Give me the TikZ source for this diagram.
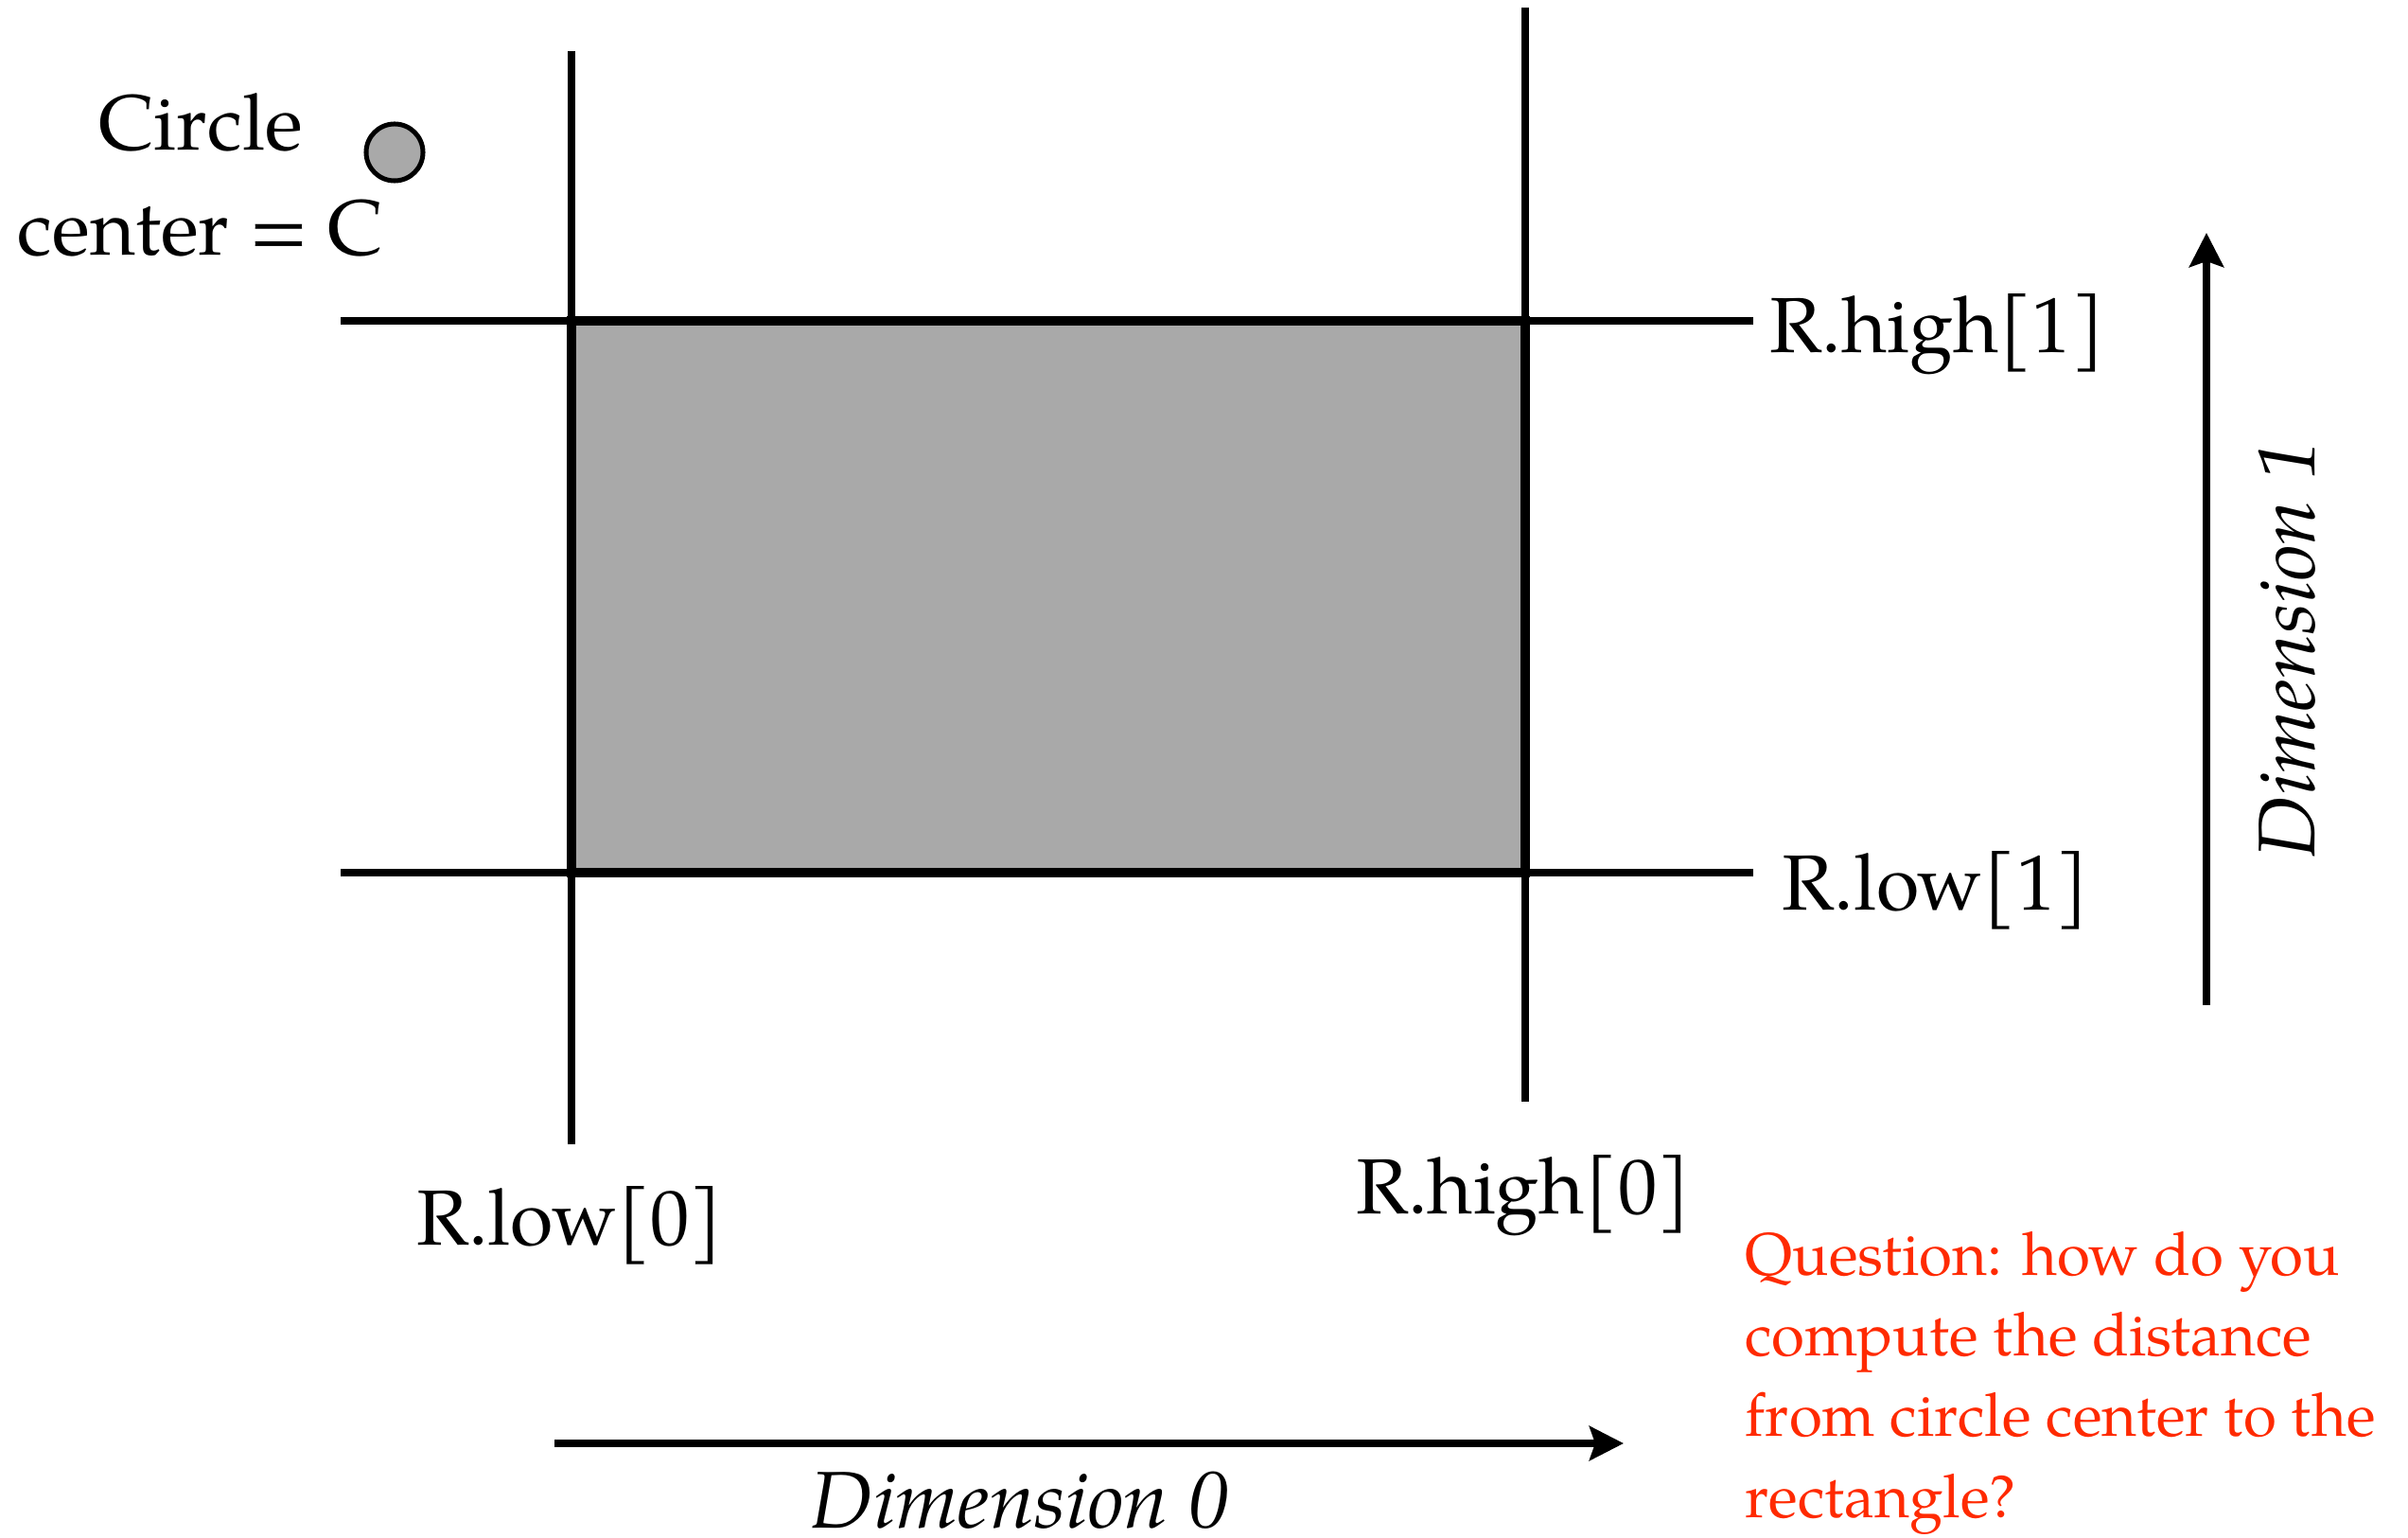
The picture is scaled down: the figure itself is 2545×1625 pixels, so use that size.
\documentclass[tikz,border=0pt]{standalone}
\usepackage{fontspec}
\setmainfont{TeX Gyre Pagella}
\usetikzlibrary{arrows.meta}
\definecolor{boxgray}{HTML}{A9A9A9}
\definecolor{qred}{HTML}{FF2A00}
\tikzset{
  gridline/.style={line width=0.08cm, black},
  axisarrow/.style={line width=0.08cm, -{Stealth[length=0.36cm, width=0.36cm, inset=0.06cm]}},
  lbl/.style={font=\fontsize{23.5}{29}\selectfont, inner sep=0pt},
  ilbl/.style={font=\fontsize{24.2}{29}\selectfont\itshape, inner sep=0pt},
  qlbl/.style={font=\fontsize{18.1}{24.2}\selectfont, text=qred, inner sep=0pt, align=left},
}
\begin{document}
\begin{tikzpicture}[x=0.01cm, y=-0.01cm]
\useasboundingbox (0,0) rectangle (2545,1625);
% rectangle
\draw[fill=boxgray, line width=0.1cm] (604,339) rectangle (1612,922);
% grid lines
\draw[gridline] (604,54) -- (604,1209);
\draw[gridline] (1612,8) -- (1612,1164);
\draw[gridline] (360,339) -- (1853,339);
\draw[gridline] (360,922) -- (1853,922);
% circle
\node[circle, draw, line width=0.05cm, fill=boxgray, minimum size=0.6cm, inner sep=0pt] (C) at (417,161) {};
\node[lbl, align=center, anchor=base] (clab) at (212,270) {Circle\\[0.1cm]center = C};
% labels
\node[lbl, anchor=base west] (rh1) at (1870,373) {R.high[1]};
\node[lbl, anchor=base west] (rl1) at (1883,961) {R.low[1]};
\node[lbl, anchor=base] (rl0) at (602,1315) {R.low[0]};
\node[lbl, anchor=base] (rh0) at (1610,1282) {R.high[0]};
% axes
\coordinate (d0a) at (586,1525);
\coordinate (d0b) at (1716,1525);
\draw[axisarrow] (d0a) -- (d0b);
\node[ilbl, anchor=base] (d0) at (1078,1614) {Dimension 0};
\coordinate (d1a) at (2332,1062);
\coordinate (d1b) at (2332,246);
\draw[axisarrow] (d1a) -- (d1b);
\node[ilbl, anchor=base, rotate=90] (d1) at (2446,686) {Dimension 1};
% question
\node[qlbl, anchor=base west] (q) at (1844,1603) {Question: how do you\\compute the distance\\from circle center to the\\rectangle?};
\end{tikzpicture}
\end{document}
